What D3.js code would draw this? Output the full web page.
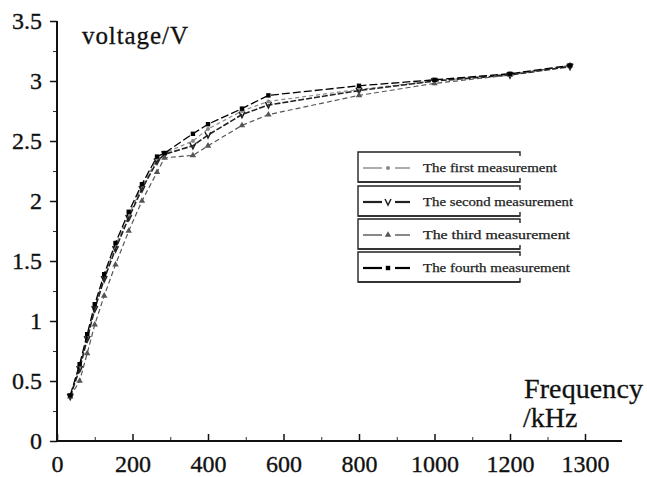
<!DOCTYPE html>
<html><head><meta charset="utf-8">
<script src="https://cdn.jsdelivr.net/npm/d3@7"></script>
<style>body{margin:0;background:#fff;}svg{display:block;}</style>
</head><body>
<svg id="c" width="647" height="477"></svg>
<script>
// Data
const freq = [35, 60, 80, 100, 125, 155, 190, 225, 265, 285, 360, 400, 490, 560, 800, 1000, 1200, 1280];
const first  = [0.38, 0.62, 0.87, 1.12, 1.37, 1.63, 1.88, 2.12, 2.35, 2.40, 2.50, 2.60, 2.75, 2.83, 2.93, 3.00, 3.06, 3.12];
const second = [0.37, 0.60, 0.85, 1.10, 1.35, 1.60, 1.86, 2.10, 2.33, 2.39, 2.46, 2.55, 2.72, 2.80, 2.92, 3.00, 3.05, 3.12];
const third  = [0.37, 0.50, 0.73, 0.97, 1.21, 1.47, 1.75, 2.00, 2.24, 2.36, 2.38, 2.46, 2.63, 2.72, 2.88, 2.98, 3.05, 3.13];
const fourth = [0.38, 0.64, 0.89, 1.14, 1.39, 1.65, 1.91, 2.14, 2.37, 2.40, 2.56, 2.64, 2.77, 2.88, 2.96, 3.01, 3.06, 3.13];
const seriesNames = ["The first measurement", "The second measurement", "The third measurement", "The fourth measurement"];
const xTicks = [0, 200, 400, 600, 800, 1000, 1200, 1300];
const xMinor = [100, 300, 500, 700, 900, 1100, 1250];
const yTicks = [0, 0.5, 1, 1.5, 2, 2.5, 3, 3.5];
const yMinor = [0.25, 0.75, 1.25, 1.75, 2.25, 2.75, 3.25];

const svg = d3.select("#c");
const font = "'Liberation Serif','DejaVu Serif',serif";
const x = d3.scaleLinear().domain([0, 1200, 1300]).range([57, 510, 585]);
const y = d3.scaleLinear().domain([0, 3.5]).range([441, 21]);

function heavy(sel, w) { sel.attr("fill", "#111").attr("stroke", "#111").attr("stroke-width", w); }

// Y axis
const ya = svg.append("g").attr("transform", "translate(57,0)")
  .call(d3.axisLeft(y).tickValues(yTicks).tickSize(7).tickPadding(8).tickFormat(d3.format("")));
ya.select(".domain").remove();
ya.selectAll("text").attr("font-family", font).attr("font-size", 24).call(heavy, 0.35);
ya.selectAll("line").attr("stroke", "#111").attr("stroke-width", 1.5);
const yaM = svg.append("g").attr("transform", "translate(57,0)")
  .call(d3.axisLeft(y).tickValues(yMinor).tickSize(4).tickFormat(""));
yaM.select(".domain").remove();
yaM.selectAll("line").attr("stroke", "#333").attr("stroke-width", 1);
svg.append("line").attr("x1", 57).attr("x2", 57).attr("y1", y(3.5)).attr("y2", y(0) + 1)
  .attr("stroke", "#111").attr("stroke-width", 2);

// X axis
const xa = svg.append("g").attr("transform", "translate(0,441)")
  .call(d3.axisBottom(x).tickValues(xTicks).tickSize(-7).tickPadding(14).tickFormat(d3.format("")));
xa.select(".domain").remove();
xa.selectAll("text").attr("font-family", font).attr("font-size", 24).call(heavy, 0.35);
xa.selectAll("line").attr("stroke", "#111").attr("stroke-width", 1.5);
const xaM = svg.append("g").attr("transform", "translate(0,441)")
  .call(d3.axisBottom(x).tickValues(xMinor).tickSize(-4).tickFormat(""));
xaM.select(".domain").remove();
xaM.selectAll("line").attr("stroke", "#333").attr("stroke-width", 1);
svg.append("line").attr("x1", 56).attr("x2", 622).attr("y1", 441).attr("y2", 441)
  .attr("stroke", "#111").attr("stroke-width", 2);

// axis titles
svg.append("text").attr("x", 82).attr("y", 44).attr("font-family", font).attr("font-size", 25)
  .attr("textLength", 106).call(heavy, 0.3).text("voltage/V");
svg.append("text").attr("x", 524).attr("y", 398).attr("font-family", font).attr("font-size", 28)
  .attr("textLength", 119).call(heavy, 0.3).text("Frequency");
svg.append("text").attr("x", 523).attr("y", 427).attr("font-family", font).attr("font-size", 28)
  .call(heavy, 0.3).text("/kHz");

// series
const styles = [
  {data: first,  stroke: "#888", width: 1.2, dash: "4,3", marker: "dot"},
  {data: second, stroke: "#222", width: 1.6, dash: "6,2", marker: "v"},
  {data: third,  stroke: "#555", width: 1.2, dash: "5,3", marker: "tri"},
  {data: fourth, stroke: "#000", width: 1.3, dash: "8,3", marker: "sq"}
];
const line = d3.line().x(d => x(d[0])).y(d => y(d[1]));
function drawMarker(g, type, cx, cy, color) {
  if (type === "dot") g.append("circle").attr("cx", cx).attr("cy", cy).attr("r", 2).attr("fill", color);
  else if (type === "sq") g.append("rect").attr("x", cx - 2.2).attr("y", cy - 2.2).attr("width", 4.4).attr("height", 4.4).attr("fill", color);
  else if (type === "tri") g.append("path").attr("d", d3.symbol(d3.symbolTriangle, 18)()).attr("transform", `translate(${cx},${cy})`).attr("fill", color);
  else if (type === "v") g.append("path").attr("d", `M${cx-3},${cy-3}L${cx},${cy+3}L${cx+3},${cy-3}`).attr("fill", "none").attr("stroke", color).attr("stroke-width", 1.5);
}
styles.forEach(s => {
  const pts = freq.map((f, i) => [f, s.data[i]]);
  svg.append("path").attr("d", line(pts)).attr("fill", "none").attr("stroke", s.stroke)
    .attr("stroke-width", s.width).attr("stroke-dasharray", s.dash);
  const g = svg.append("g");
  pts.forEach(p => drawMarker(g, s.marker, x(p[0]), y(p[1]), s.stroke));
});

// legend
const legTops = [152, 186, 219, 252];
const legH = 30;
const lg = svg.append("g");
seriesNames.forEach((name, i) => {
  const t = legTops[i], b = t + legH;
  lg.append("path").attr("d", `M520,${t+4}V${t}H358V${b}H520V${b-4}`)
    .attr("fill", "none").attr("stroke", "#222").attr("stroke-width", 1.4);
  lg.append("line").attr("x1", 358).attr("x2", 520).attr("y1", b).attr("y2", b)
    .attr("stroke", "#333").attr("stroke-width", 2.2);
  const s = styles[i], cy = t + legH / 2 + 1;
  const lw = i === 1 || i === 3 ? 2.2 : 1.4;
  lg.append("line").attr("x1", 363).attr("x2", 382).attr("y1", cy).attr("y2", cy).attr("stroke", s.stroke).attr("stroke-width", lw);
  lg.append("line").attr("x1", 395).attr("x2", 410).attr("y1", cy).attr("y2", cy).attr("stroke", s.stroke).attr("stroke-width", lw);
  drawMarker(lg, s.marker, 388, cy, s.stroke);
  const lens = [134, 150, 147, 147];
  lg.append("text").attr("x", 423).attr("y", cy + 4).attr("font-family", font).attr("font-size", 13)
    .attr("textLength", lens[i]).attr("lengthAdjust", "spacingAndGlyphs")
    .attr("fill", "#222").attr("stroke", "#222").attr("stroke-width", 0.25).text(name);
});
</script>
</body></html>
